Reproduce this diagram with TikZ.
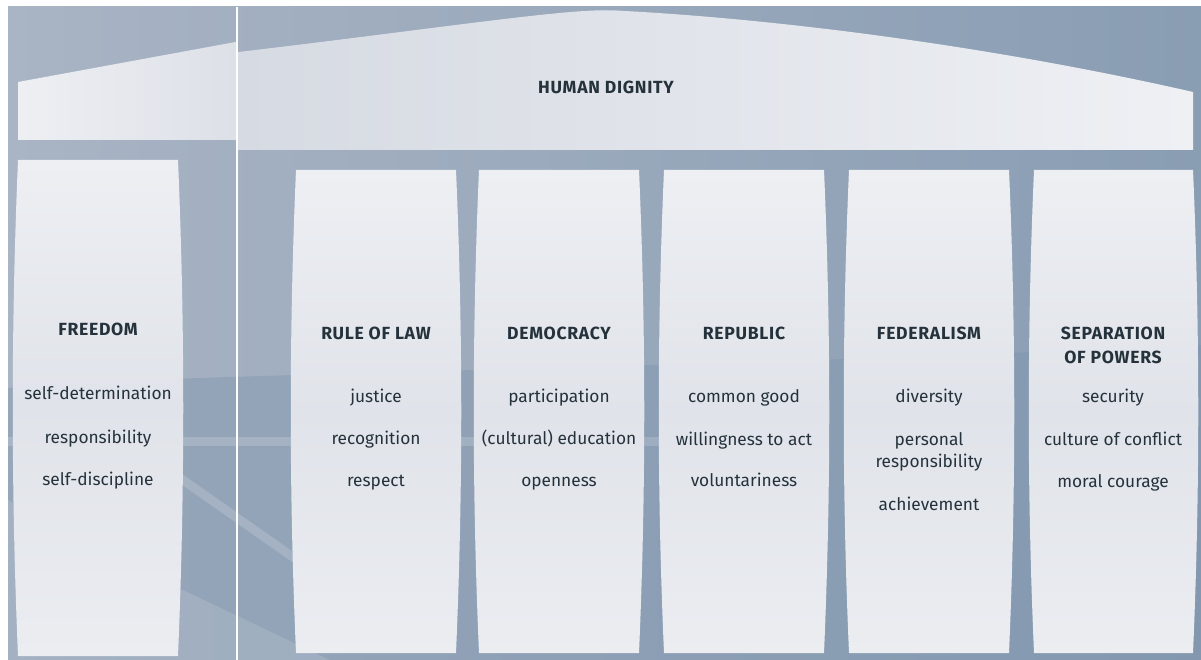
\documentclass[tikz,border=0pt]{standalone}
\usepackage{fontspec}
\setmainfont{Fira Sans}
\newfontfamily\headfont[LetterSpace=4]{Fira Sans}

\definecolor{bgleft}{HTML}{A9B4C4}
\definecolor{bgright}{HTML}{899DB3}
\definecolor{bgdark}{HTML}{7890AA}
\definecolor{pilltop}{HTML}{EDEFF3}
\definecolor{pillmid}{HTML}{E0E3E9}
\definecolor{pillbot}{HTML}{EBEDF1}
\definecolor{roofa}{HTML}{D6DAE2}
\definecolor{roofb}{HTML}{E6E8ED}
\definecolor{roofc}{HTML}{EEF0F4}
\definecolor{ink}{HTML}{25323C}

% barrel-shaped column: left x, right x, top y, bottom y
\newcommand\drawpillar[4]{%
  \path[pillarfill] (#1,#3) -- (#2,#3)
    .. controls ({#2+7},{#3+(#4-#3)/3}) and ({#2+7},{#3+2*(#4-#3)/3}) .. (#2,#4)
    -- (#1,#4)
    .. controls ({#1-7},{#3+2*(#4-#3)/3}) and ({#1-7},{#3+(#4-#3)/3}) .. cycle;}

\begin{document}
\begin{tikzpicture}[x=1pt,y=-1pt,
  pillarfill/.style={top color=pilltop,bottom color=pillbot,middle color=pillmid},
  heading/.style={text=ink,font=\fontsize{17.6}{24}\headfont\bfseries,anchor=base,inner sep=0pt},
  item/.style={text=ink,font=\fontsize{17.3}{22}\selectfont,anchor=base,inner sep=0pt}]
\useasboundingbox (0,0) rectangle (1201,660);
\fill[white] (0,0) rectangle (1201,660);

% background
\shade[left color=bgleft,right color=bgright] (8,7) rectangle (1201,660);
\fill[bgdark,opacity=.35] (8,388) .. controls (200,372) and (600,372) .. (1201,345)
  -- (1201,660) -- (8,660) -- cycle;
\fill[white,opacity=.12] (8,500) -- (183,590) -- (330,660) -- (8,660) -- cycle;
\fill[white,opacity=.16] (8,437) rectangle (700,446);
\draw[white,opacity=.16,line width=9pt] (120,436) -- (330,583);
\draw[white,line width=2.5pt] (237,7) -- (237,660);

% roof
\shade[left color=pilltop,right color=roofa!70!pilltop] (18,82) -- (235.5,42) -- (235.5,140) -- (18,140) -- cycle;
\shade[left color=roofa,middle color=roofb,right color=roofc]
  (238.5,52) .. controls (400,33) and (530,14) .. (585,11)
  .. controls (600,10) and (612,10) .. (625,11)
  .. controls (790,20) and (1000,48) .. (1193,92)
  -- (1193,150) -- (238.5,150) -- cycle;
\node[heading] (dignity) at (606,94) {HUMAN DIGNITY};

% columns
\drawpillar{18}{178}{160}{656}
\drawpillar{296}{456}{170}{653}
\drawpillar{479}{639}{170}{653}
\drawpillar{664}{824}{170}{653}
\drawpillar{849}{1009}{170}{653}
\drawpillar{1034}{1193}{170}{653}

% freedom
\node[heading] (freedom) at (98,335) {FREEDOM};
\node[item] (f1) at (98,399) {self-determination};
\node[item] (f2) at (98,443) {responsibility};
\node[item] (f3) at (98,485) {self-discipline};

% rule of law
\node[heading] (law) at (376,339) {RULE OF LAW};
\node[item] (l1) at (376,402) {justice};
\node[item] (l2) at (376,444) {recognition};
\node[item] (l3) at (376,486) {respect};

% democracy
\node[heading] (demo) at (559,339) {DEMOCRACY};
\node[item] (d1) at (559,402) {participation};
\node[item] (d2) at (559,444) {(cultural) education};
\node[item] (d3) at (559,486) {openness};

% republic
\node[heading] (rep) at (744,339) {REPUBLIC};
\node[item] (r1) at (744,402) {common good};
\node[item] (r2) at (744,445) {willingness to act};
\node[item] (r3) at (744,486) {voluntariness};

% federalism
\node[heading] (fed) at (929,339) {FEDERALISM};
\node[item] (e1) at (929,402) {diversity};
\node[item] (e2a) at (929,445) {personal};
\node[item] (e2b) at (929,467) {responsibility};
\node[item] (e3) at (929,510) {achievement};

% separation of powers
\node[heading] (sepa) at (1113,339) {SEPARATION};
\node[heading] (sepb) at (1113,363) {OF POWERS};
\node[item] (s1) at (1113,402) {security};
\node[item] (s2) at (1113,445) {culture of conflict};
\node[item] (s3) at (1113,487) {moral courage};
\end{tikzpicture}
\end{document}
